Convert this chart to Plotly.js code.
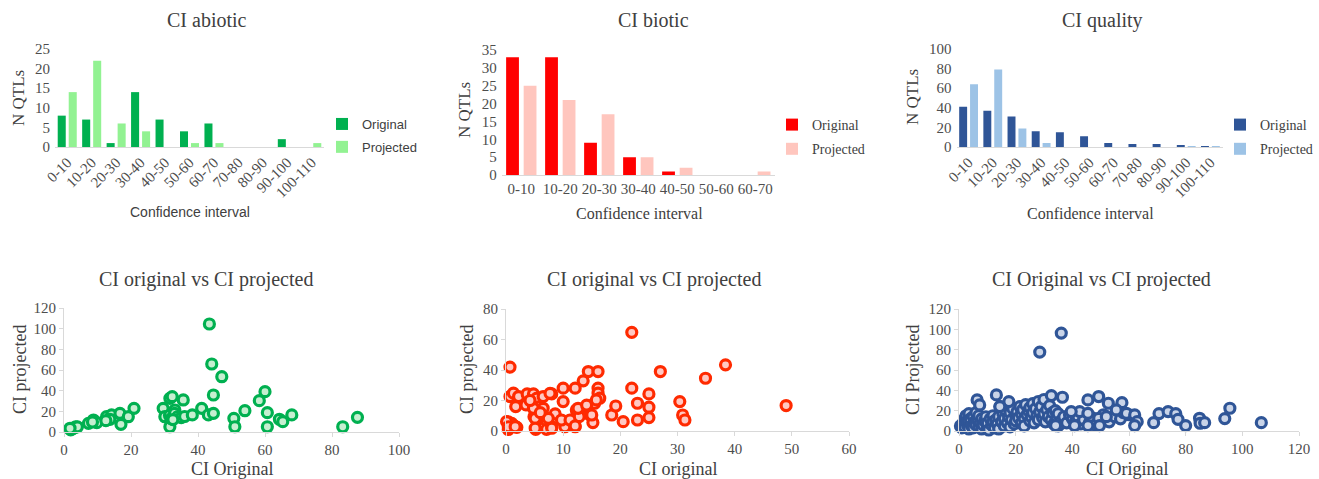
<!DOCTYPE html>
<html>
<head>
<meta charset="utf-8">
<script src="https://cdn.plot.ly/plotly-3.0.1.min.js"></script>
<style>html,body{margin:0;padding:0;background:#fff;}#chart{width:1319px;height:479px;}</style>
</head>
<body>
<div id="chart"></div>
<script>
// ---------- Bar charts data ----------
const abioticCats = ['0-10','10-20','20-30','30-40','40-50','50-60','60-70','70-80','80-90','90-100','100-110'];
const abioticOriginal = [8, 7, 1, 14, 7, 4, 6, 0, 0, 2, 0];
const abioticProjected = [14, 22, 6, 4, 0, 1, 1, 0, 0, 0, 1];

const bioticCats = ['0-10','10-20','20-30','30-40','40-50','50-60','60-70'];
const bioticOriginal = [33, 33, 9, 5, 1, 0, 0];
const bioticProjected = [25, 21, 17, 5, 2, 0, 1];

const qualityCats = ['0-10','10-20','20-30','30-40','40-50','50-60','60-70','70-80','80-90','90-100','100-110'];
const qualityOriginal = [41, 37, 31, 16, 15, 11, 4, 3, 3, 2, 1];
const qualityProjected = [64, 79, 19, 4, 0, 0, 0, 0, 0, 1, 1];

// ---------- Scatter data ----------
const abioticCIOriginal = [2,2.5,3,3.5,4,1.8,7.3,8.8,9.8,8.5,12.7,14.2,13.7,12.5,16.7,19.2,17.0,20.9,29.6,30.1,31.6,32.3,35.6,33.1,31.6,31.5,32,33,34,35,36,32.5,38.3,41.1,43.1,44.6,44.6,44.1,47.1,43.4,50.7,51.0,54.0,58.3,60.0,60.7,60.7,64.3,65.3,68.0,83.2,87.6];
const abioticCIProjected = [2,3,4,5,5,3.6,8.4,11.6,9.0,9.7,14.8,16.5,12.3,11,18.1,14.8,7.4,22.9,22.9,14.8,32.6,34.2,31.0,21.3,5.1,16,13,18,15,14,15,12,16.5,22.9,16.5,18.1,35.8,65.8,53.5,104.5,13.2,5.1,20.6,30.3,39.0,18.7,5.1,12.3,10.0,16.5,5.1,14.2];

const bioticCIOriginal = [0.7,0.7,1.3,2.2,1.7,0.4,0.4,1,1.6,1.9,0.1,0.4,1.6,3.7,4.8,3.5,5.4,5.9,6.5,6.5,8.0,7.7,4.9,5.4,5.2,7.1,7.1,8.0,8.6,10.0,10.0,10.3,10.3,11.5,12.1,12.3,12.8,12.1,13.5,14.4,16.1,14.1,14.7,15.2,15.5,16.1,16.1,16.4,15.8,12.6,14.1,15.0,4.8,5.1,7.4,9.7,11.2,12.1,5.1,8.0,4.2,6,18.5,19.2,20.5,22.0,22.0,23.0,23.0,25.0,25.0,25.0,27.0,30.4,30.9,31.3,34.9,38.4,49.0];
const bioticCIProjected = [41.9,22.6,24.8,22.6,16,6,1,5,3,2.4,6.1,2.8,2.8,24.3,24.3,17.1,21.5,16,14.9,22.6,24.3,24.7,9.4,7.2,1.1,6.6,1.1,2.8,11.2,28.1,19.3,5.5,2.8,7.2,28.1,13.8,9.4,2.8,32.9,39.0,39.0,16,10.5,5.5,18.2,28.1,24.8,21.5,20.4,14.9,17,10.5,14.9,8.3,8.3,7.2,7.2,3.3,1.8,1.8,20,12,10.5,16.4,6.1,64.7,28.1,18.2,7.2,24.3,15.6,8.8,39.0,19.3,10.5,7.2,34.6,43.4,16.7];

const qualityCIOriginal = [0.5,1,1.5,2,2,2.5,3,3,3.5,3.5,4,4,4.5,5,5,5.5,6,6,6.5,7,7,7.5,8,8,8.5,9,9.5,10,10,10.5,11,11.5,12,12,12.5,13,13.5,14,14,14.5,15,15.5,16,16,16.5,17,17.5,18,18,18.5,19,19.5,20,20,20.5,21,21.5,22,22,22.5,23,23,23.5,24,24.5,25,25,25.5,26,26,26.5,27,27.5,28,28,28.5,29,29.5,30,30,30.5,31,31.5,32,32.5,33,33.5,34,34.5,35,35,36,37,38,39,40,41,42,43,44,46,47,48,50,51,53,55,57,58,60,
  28.5,36.1,6.4,7.3,13.2,17.6,14.4,32.6,36.5,45.5,49.3,52.7,57.5,42.6,39.6,45.5,49.3,52,55.5,59.1,62,62.9,62,68.7,70.6,73.8,76.5,77.3,80.0,84.9,85.1,86.7,93.8,95.6,106.7,34.1,40.8,45.5,49.6];
const qualityCIProjected = [5,3,8,12,4,15,6,10,2,17,8,12,5,14,3,9,18,6,11,4,15,8,12,2,6,10,14,4,8,1,12,6,15,9,3,11,7,14,2,24,9,17,5,12,20,8,14,4,18,11,22,7,15,10,19,13,24,8,17,21,12,5,26,16,20,10,23,14,27,18,8,22,15,29,11,19,24,13,31,17,9,21,14,25,11,18,7,20,14,5,17,10,14,8,16,12,9,14,7,11,8,13,6,10,16,9,14,12,18,16,
  77.6,96.3,30.6,25.6,35.5,28.9,24,34.8,33.2,30.6,33.9,27.3,27.9,19.1,19.1,17.4,12.5,14.1,20.7,17.4,15.8,9.2,5.3,8.2,17.1,19.1,17.1,11.5,5.3,12.5,7.6,8.2,12.2,22.4,8.2,5.3,5.3,5.3,5.3];

// ---------- helpers ----------
const W = 1319, H = 479;
const SERIF = 'Liberation Serif, Times New Roman, serif';
const SANS = 'Liberation Sans, Arial, sans-serif';
const TICK = '#4D4D4D';
const TXT = '#404040';
const AXLINE = '#D9D9D9';
const px = v => v / W;
const py = v => 1 - v / H;

function ann(text, x, y, size, family, angle) {
  return {text: text, xref: 'paper', yref: 'paper', x: px(x), y: py(y),
    xanchor: 'center', yanchor: 'middle', showarrow: false, textangle: angle || 0,
    font: {family: family, size: size, color: TXT}};
}

function barTrace(cats, vals, name, color, xa, ya, leg) {
  return {type: 'bar', x: cats, y: vals, name: name, marker: {color: color},
    xaxis: xa, yaxis: ya, legend: leg, legendgroup: leg + name, hoverinfo: 'x+y'};
}
function scatTrace(xs, ys, line, fill, xa, ya) {
  return {type: 'scatter', mode: 'markers', x: xs, y: ys, xaxis: xa, yaxis: ya,
    showlegend: false, cliponaxis: false,
    marker: {size: 10, color: fill, line: {color: line, width: 3.2}}};
}

const data = [
  barTrace(abioticCats, abioticOriginal, 'Original', '#00B050', 'x', 'y', 'legend'),
  barTrace(abioticCats, abioticProjected, 'Projected', '#92F292', 'x', 'y', 'legend'),
  barTrace(bioticCats, bioticOriginal, 'Original', '#FF0000', 'x2', 'y2', 'legend2'),
  barTrace(bioticCats, bioticProjected, 'Projected', '#FFC6BE', 'x2', 'y2', 'legend2'),
  barTrace(qualityCats, qualityOriginal, 'Original', '#2F5597', 'x3', 'y3', 'legend3'),
  barTrace(qualityCats, qualityProjected, 'Projected', '#9DC3E6', 'x3', 'y3', 'legend3'),
  scatTrace(abioticCIOriginal, abioticCIProjected, '#00B050', '#C6EFD0', 'x4', 'y4'),
  scatTrace(bioticCIOriginal, bioticCIProjected, '#FF2A00', '#FFC8C2', 'x5', 'y5'),
  scatTrace(qualityCIOriginal, qualityCIProjected, '#2F5597', '#C9D4E8', 'x6', 'y6')
];

const tickFont = {family: SERIF, size: 15, color: TICK};

function barX(d0, d1, anchor, angle) {
  return {domain: [px(d0), px(d1)], anchor: anchor, type: 'category', showgrid: false,
    showline: true, linecolor: AXLINE, linewidth: 1, ticks: '', tickangle: angle,
    tickfont: tickFont, zeroline: false, fixedrange: true};
}
function barY(top, bottom, anchor, max, dtick) {
  return {domain: [py(bottom), py(top)], anchor: anchor, range: [0, max], dtick: dtick,
    showgrid: false, showline: false, zeroline: false, ticks: '', tickfont: tickFont,
    ticklabelstandoff: 4, fixedrange: true};
}
function scX(d0, d1, anchor, max, dtick) {
  return {domain: [px(d0), px(d1)], anchor: anchor, range: [0, max], dtick: dtick,
    showgrid: false, showline: true, linecolor: AXLINE, linewidth: 1, zeroline: false,
    ticks: 'outside', ticklen: 4, tickcolor: AXLINE, tickfont: tickFont, fixedrange: true};
}
function scY(top, bottom, anchor, max, dtick) {
  return {domain: [py(bottom), py(top)], anchor: anchor, range: [0, max], dtick: dtick,
    showgrid: false, showline: true, linecolor: AXLINE, linewidth: 1, zeroline: false,
    ticks: 'outside', ticklen: 4, tickcolor: AXLINE, tickfont: tickFont, fixedrange: true};
}
function legendAt(x, y, family, size) {
  return {x: px(x), y: py(y), xanchor: 'left', yanchor: 'top', orientation: 'v',
    traceorder: 'grouped', tracegroupgap: 3, bgcolor: 'rgba(0,0,0,0)',
    font: {family: family, size: size, color: TXT}};
}

const layout = {
  width: W, height: H,
  margin: {l: 0, r: 0, t: 0, b: 0},
  paper_bgcolor: '#ffffff', plot_bgcolor: '#ffffff',
  barmode: 'group', bargap: 0.1, bargroupgap: 0.27,
  showlegend: true,
  xaxis: barX(55, 324, 'y', -45),
  yaxis: barY(49, 147, 'x', 25, 5),
  xaxis2: barX(501.8, 774.8, 'y2', 0),
  yaxis2: barY(50, 175, 'x2', 35, 5),
  xaxis3: barX(956.5, 1222.5, 'y3', -45),
  yaxis3: barY(49, 147, 'x3', 100, 20),
  xaxis4: scX(64, 399, 'y4', 100, 20),
  yaxis4: scY(308, 432, 'x4', 120, 20),
  xaxis5: scX(506, 849, 'y5', 60, 10),
  yaxis5: scY(309, 431, 'x5', 80, 20),
  xaxis6: scX(959, 1299, 'y6', 120, 20),
  yaxis6: scY(309, 431, 'x6', 120, 20),
  legend: legendAt(322, 109, SANS, 13),
  legend2: legendAt(772, 109, SERIF, 14),
  legend3: legendAt(1220, 109, SERIF, 14),
  annotations: [
    ann('CI abiotic', 207, 20, 20, SERIF),
    ann('CI biotic', 653, 20, 20, SERIF),
    ann('CI quality', 1102, 20, 20, SERIF),
    ann('Confidence interval', 190, 212, 14, SANS),
    ann('Confidence interval', 639, 213, 16, SERIF),
    ann('Confidence interval', 1090, 213, 16, SERIF),
    ann('N QTLs', 18, 98, 17, SERIF, -90),
    ann('N QTLs', 465, 110, 17, SERIF, -90),
    ann('N QTLs', 913, 97, 17, SERIF, -90),
    ann('CI original vs CI projected', 206, 279, 20, SERIF),
    ann('CI original vs CI projected', 654, 279, 20, SERIF),
    ann('CI Original vs CI projected', 1101, 279, 20, SERIF),
    ann('CI Original', 232, 469, 18, SERIF),
    ann('CI original', 679, 469, 18, SERIF),
    ann('CI Original', 1127, 469, 18, SERIF),
    ann('CI projected', 20, 370, 18, SERIF, -90),
    ann('CI projected', 467, 370, 18, SERIF, -90),
    ann('CI Projected', 913, 370, 18, SERIF, -90)
  ]
};

Plotly.newPlot('chart', data, layout, {displayModeBar: false, staticPlot: true});
</script>
</body>
</html>
